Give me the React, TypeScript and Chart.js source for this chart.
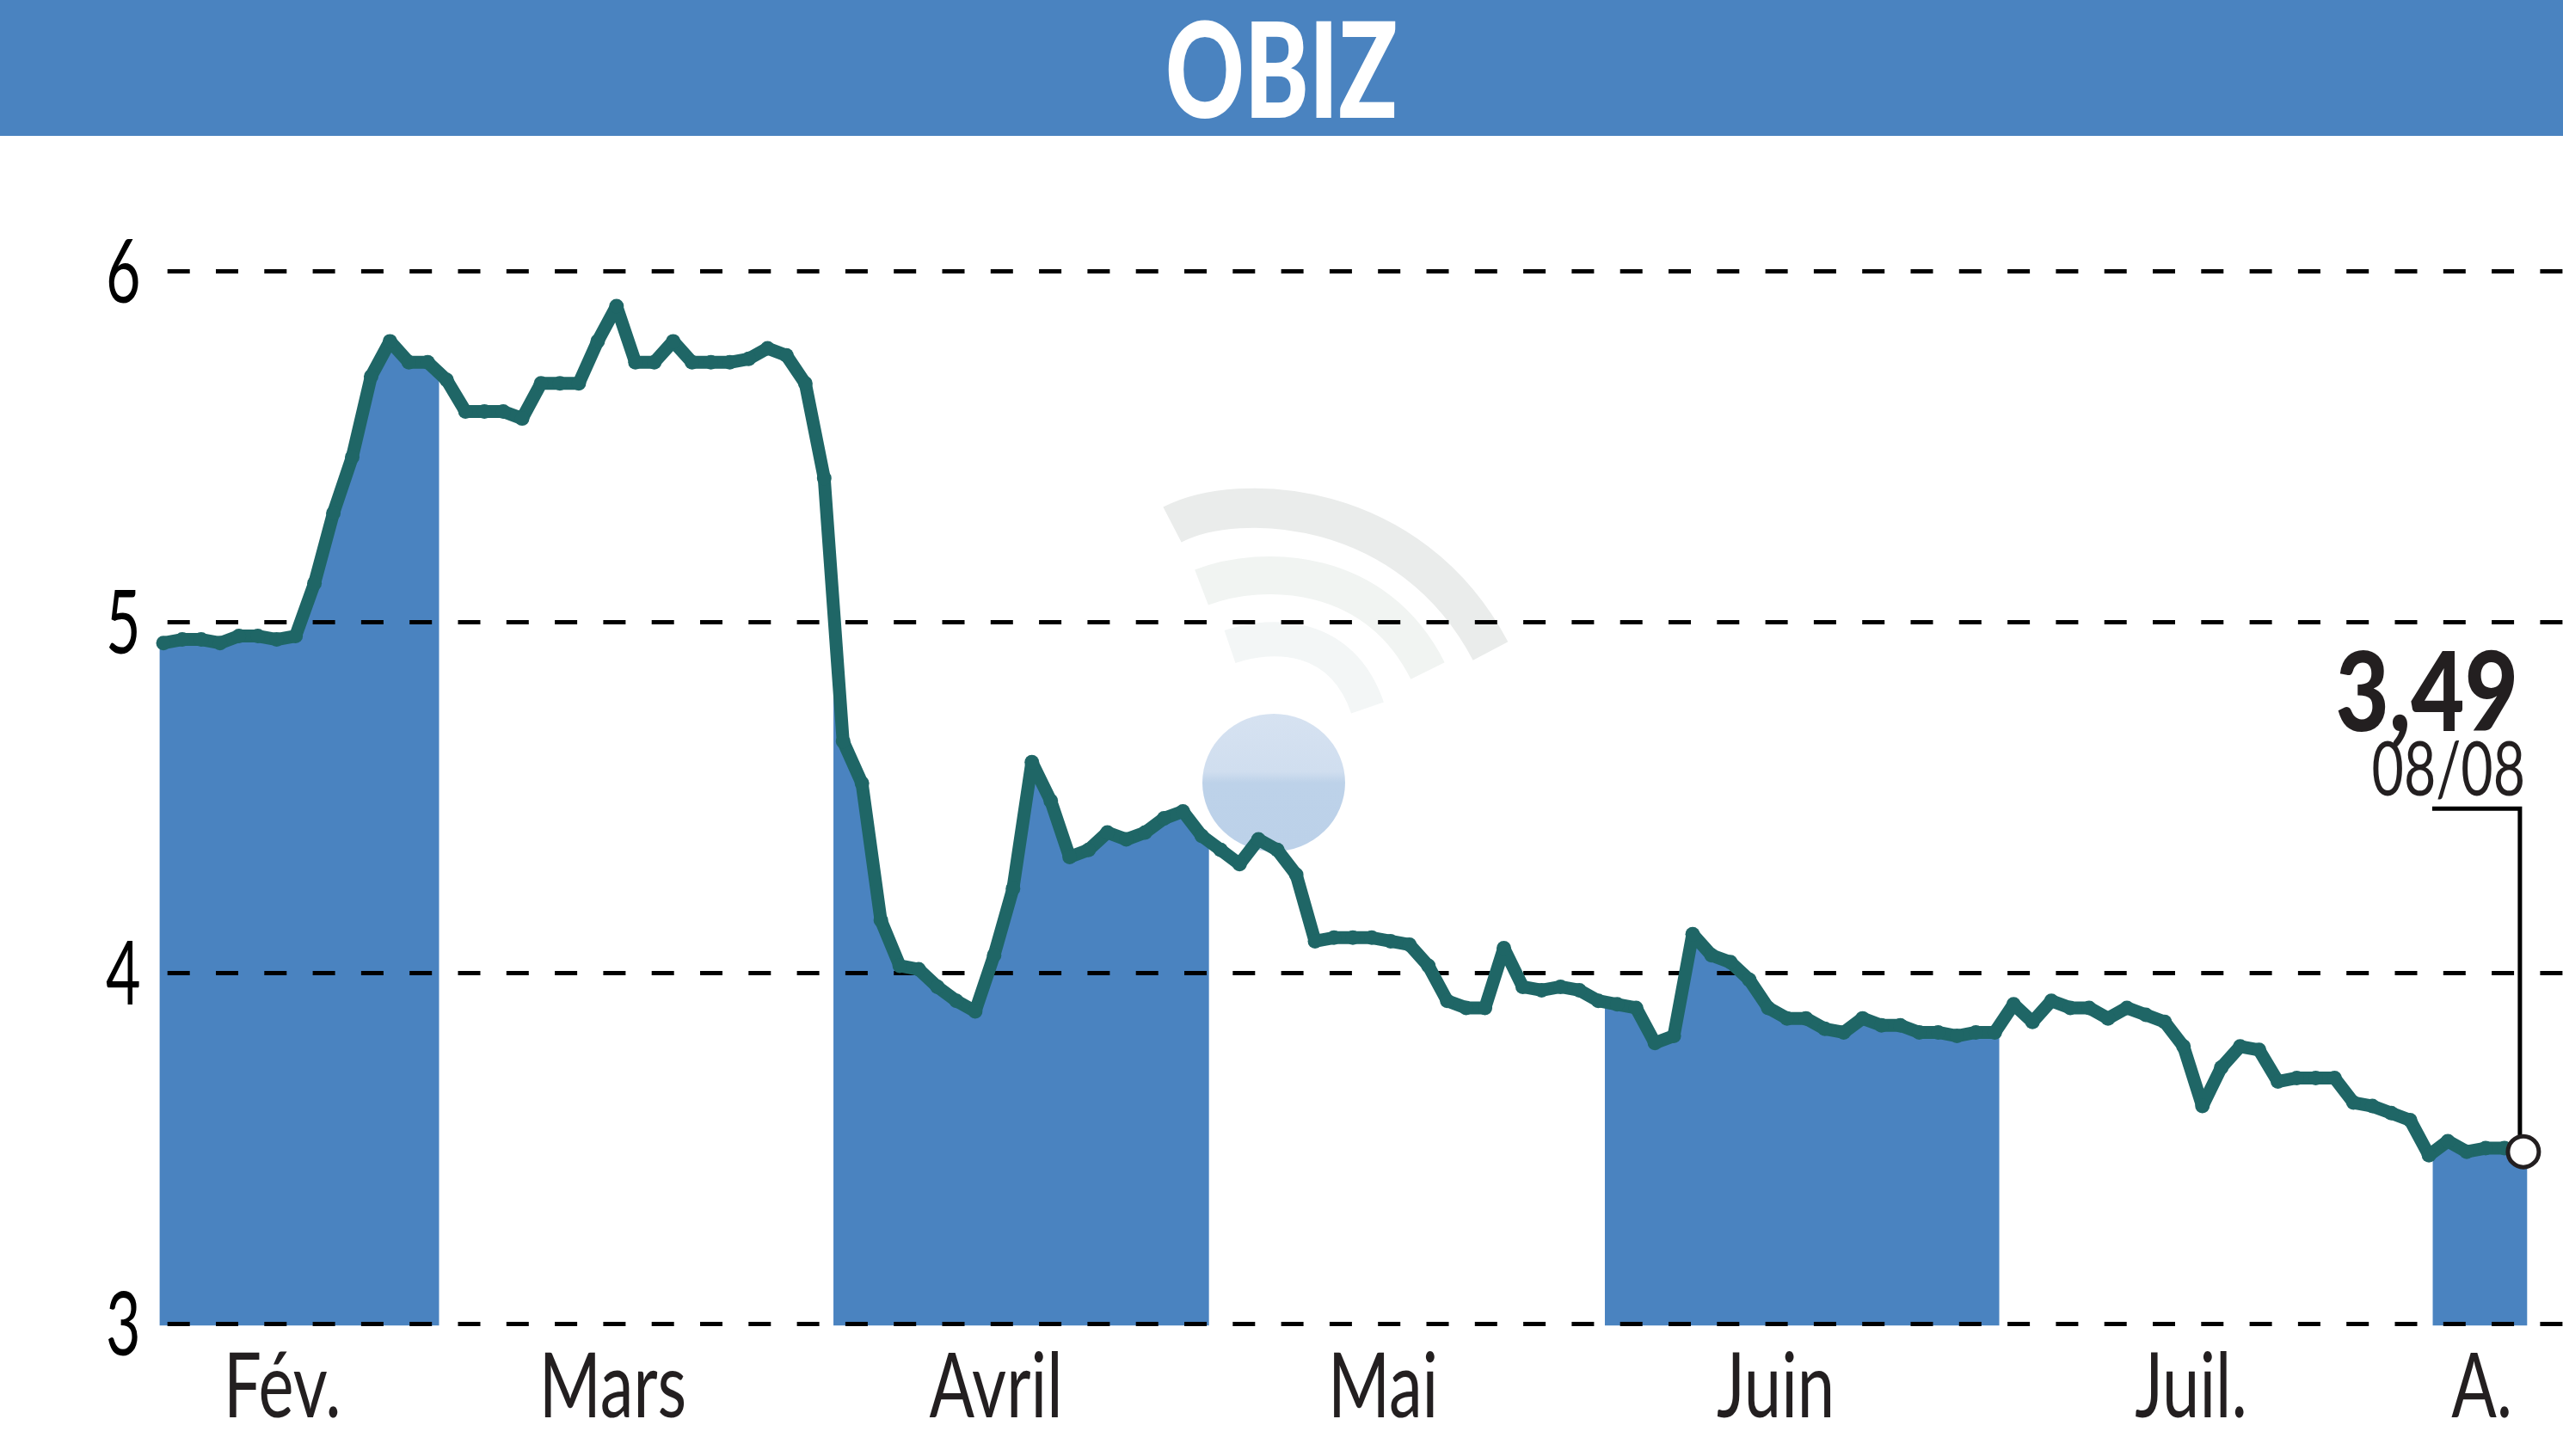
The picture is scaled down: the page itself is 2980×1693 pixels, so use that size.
import { useEffect, useRef } from 'react';
import { Chart, registerables, Plugin } from 'chart.js';

Chart.register(...registerables);

const closes = [
  4.94, 4.95, 4.95, 4.94, 4.96, 4.96, 4.95, 4.96, 5.11, 5.31, 5.47, 5.70, 5.80, 5.74, 5.74, 5.69, 5.60, 5.60, 5.60, 5.58,
  5.68, 5.68, 5.68, 5.80, 5.90, 5.74, 5.74, 5.80, 5.74, 5.74, 5.74, 5.75, 5.78, 5.76, 5.68, 5.41, 4.66, 4.54, 4.15, 4.02,
  4.01, 3.96, 3.92, 3.89, 4.05, 4.24, 4.60, 4.49, 4.33, 4.35, 4.40, 4.38, 4.40, 4.44, 4.46, 4.39, 4.35, 4.31, 4.38, 4.35,
  4.28, 4.09, 4.10, 4.10, 4.10, 4.09, 4.08, 4.02, 3.92, 3.90, 3.90, 4.07, 3.96, 3.95, 3.96, 3.95, 3.92, 3.91, 3.90, 3.80,
  3.82, 4.11, 4.05, 4.03, 3.98, 3.90, 3.87, 3.87, 3.84, 3.83, 3.87, 3.85, 3.85, 3.83, 3.83, 3.82, 3.83, 3.83, 3.91, 3.86,
  3.92, 3.90, 3.90, 3.87, 3.90, 3.88, 3.86, 3.79, 3.62, 3.73, 3.79, 3.78, 3.69, 3.70, 3.70, 3.70, 3.63, 3.62, 3.60, 3.58,
  3.48, 3.52, 3.49, 3.50, 3.50, 3.49,
];
const sessions = closes.map((_, i) => i);

const monthLabels = ['Fév.', 'Mars', 'Avril', 'Mai', 'Juin', 'Juil.', 'A.'];
const monthLabelAt = [6.3, 23.8, 44.1, 64.6, 85.4, 107.4, 122.8];

// alternate months are shaded, in session units
const shadedMonths = [
  [-0.2, 14.6],
  [35.49, 55.38],
  [76.35, 97.24],
  [120.2, 125.2],
];

const title = 'OBIZ';
const lastValue = '3,49';
const lastDate = '08/08';

const BLUE = '#4A83C0';
const TEAL = '#1F6666';
const INK = '#231F20';
const FONT = 'Lato, "Open Sans", sans-serif';

// the reference type is a condensed face, none is installed so squeeze it
const squeezed = (ctx: CanvasRenderingContext2D, text: string, x: number, y: number, sx: number, align: CanvasTextAlign) => {
  ctx.save();
  ctx.translate(x, y);
  ctx.scale(sx, 1);
  ctx.textAlign = align;
  ctx.textBaseline = 'alphabetic';
  ctx.fillText(text, 0, 0);
  ctx.restore();
};

const decorations: Plugin<'line'> = {
  id: 'decorations',
  beforeDraw(chart) {
    const { ctx, chartArea, scales } = chart;
    ctx.save();
    ctx.fillStyle = BLUE;
    ctx.fillRect(0, 0, chart.width, 158);
    ctx.fillStyle = '#fff';
    ctx.font = `900 155px ${FONT}`;
    squeezed(ctx, title, chart.width / 2, 137, 0.73, 'center');

    // watermark
    ctx.lineCap = 'butt';
    ctx.strokeStyle = '#EAECEB';
    ctx.lineWidth = 46;
    ctx.beginPath();
    ctx.moveTo(1363, 610);
    ctx.bezierCurveTo(1440, 570, 1640, 580, 1733, 757);
    ctx.stroke();
    ctx.strokeStyle = '#F1F4F2';
    ctx.lineWidth = 44;
    ctx.beginPath();
    ctx.moveTo(1397, 683);
    ctx.bezierCurveTo(1470, 655, 1600, 660, 1660, 780);
    ctx.stroke();
    ctx.strokeStyle = '#F3F6F6';
    ctx.lineWidth = 40;
    ctx.beginPath();
    ctx.moveTo(1430, 752);
    ctx.bezierCurveTo(1480, 735, 1560, 735, 1590, 823);
    ctx.stroke();
    const ball = ctx.createLinearGradient(0, 830, 0, 990);
    ball.addColorStop(0, '#D6E2F1');
    ball.addColorStop(0.42, '#D0DEEF');
    ball.addColorStop(0.5, '#BDD2E9');
    ball.addColorStop(1, '#BCD1E9');
    ctx.fillStyle = ball;
    ctx.beginPath();
    ctx.ellipse(1481, 910, 83, 80, 0, 0, Math.PI * 2);
    ctx.fill();

    // shaded area under the line, below the grid
    const points = chart.getDatasetMeta(0).data;
    const first = points[0];
    const last = points[points.length - 1];
    const bottom = chartArea.bottom + 2.5;
    ctx.fillStyle = BLUE;
    shadedMonths.forEach(([from, to]) => {
      const left = scales.x.getPixelForValue(from);
      const right = scales.x.getPixelForValue(to);
      ctx.save();
      ctx.beginPath();
      ctx.rect(left, 0, right - left, bottom);
      ctx.clip();
      ctx.beginPath();
      ctx.moveTo(first.x - 20, bottom);
      ctx.lineTo(first.x - 20, first.y);
      points.forEach((p) => ctx.lineTo(p.x, p.y));
      ctx.lineTo(last.x + 20, last.y);
      ctx.lineTo(last.x + 20, bottom);
      ctx.closePath();
      ctx.fill();
      ctx.restore();
    });
    ctx.restore();
  },
  beforeDatasetsDraw(chart) {
    const { ctx, chartArea, scales } = chart;
    const points = chart.getDatasetMeta(0).data;
    const last = points[points.length - 1];
    ctx.save();
    ctx.strokeStyle = '#000';
    ctx.lineWidth = 5;
    ctx.beginPath();
    ctx.moveTo(last.x - 106, last.y - 399);
    ctx.lineTo(last.x - 4, last.y - 399);
    ctx.lineTo(last.x - 4, last.y);
    ctx.stroke();

    // tick labels, placed by the scales
    ctx.fillStyle = '#000';
    ctx.font = `103px ${FONT}`;
    scales.y.ticks.forEach((t) => {
      squeezed(ctx, String(t.label), chartArea.left - 22, scales.y.getPixelForValue(t.value) + 37, 0.68, 'right');
    });
    ctx.fillStyle = INK;
    ctx.font = `105px ${FONT}`;
    scales.x.ticks.forEach((t) => {
      squeezed(ctx, String(t.label), scales.x.getPixelForValue(t.value), chartArea.bottom + 109, 0.74, 'center');
    });

    ctx.font = `900 128px ${FONT}`;
    squeezed(ctx, lastValue, 2928, 850, 0.84, 'right');
    ctx.font = `87px ${FONT}`;
    squeezed(ctx, lastDate, 2936, 925, 0.74, 'right');
    ctx.restore();
  },
};

export default function App() {
  const ref = useRef<HTMLCanvasElement>(null);

  useEffect(() => {
    document.body.style.margin = '0';
    if (!ref.current) return;
    const chart = new Chart(ref.current, {
      type: 'line',
      data: {
        labels: sessions,
        datasets: [
          {
            data: closes.map((y, i) => ({ x: sessions[i], y })),
            borderColor: TEAL,
            borderWidth: 15,
            borderJoinStyle: 'round',
            tension: 0,
            clip: false,
            pointRadius: (c) => (c.dataIndex === closes.length - 1 ? 18 : 8.5),
            pointBackgroundColor: (c) => (c.dataIndex === closes.length - 1 ? '#fff' : TEAL),
            pointBorderColor: (c) => (c.dataIndex === closes.length - 1 ? INK : TEAL),
            pointBorderWidth: (c) => (c.dataIndex === closes.length - 1 ? 5 : 0),
          },
        ],
      },
      options: {
        animation: false,
        responsive: false,
        devicePixelRatio: 1,
        layout: { autoPadding: false, padding: { top: 315.3 } },
        plugins: {
          legend: { display: false },
          tooltip: { enabled: false },
        },
        scales: {
          x: {
            type: 'linear',
            min: -0.196,
            max: 127.1,
            grid: { display: false },
            border: { display: false },
            afterFit: (s) => {
              s.height = 154;
            },
            afterBuildTicks: (s) => {
              s.ticks = monthLabelAt.map((value) => ({ value }));
            },
            ticks: {
              display: false,
              callback: (_, i) => monthLabels[i],
            },
          },
          y: {
            min: 3,
            max: 6,
            grid: { color: '#000', lineWidth: 5, drawTicks: false },
            border: { display: false, dash: [26, 30.3], dashOffset: 47.6 },
            afterFit: (s) => {
              s.width = 185.7;
            },
            ticks: {
              display: false,
              stepSize: 1,
              callback: (v) => String(v),
            },
          },
        },
      },
      plugins: [decorations],
    });
    return () => chart.destroy();
  }, []);

  return <canvas ref={ref} width={2980} height={1693} style={{ display: 'block' }} />;
}
